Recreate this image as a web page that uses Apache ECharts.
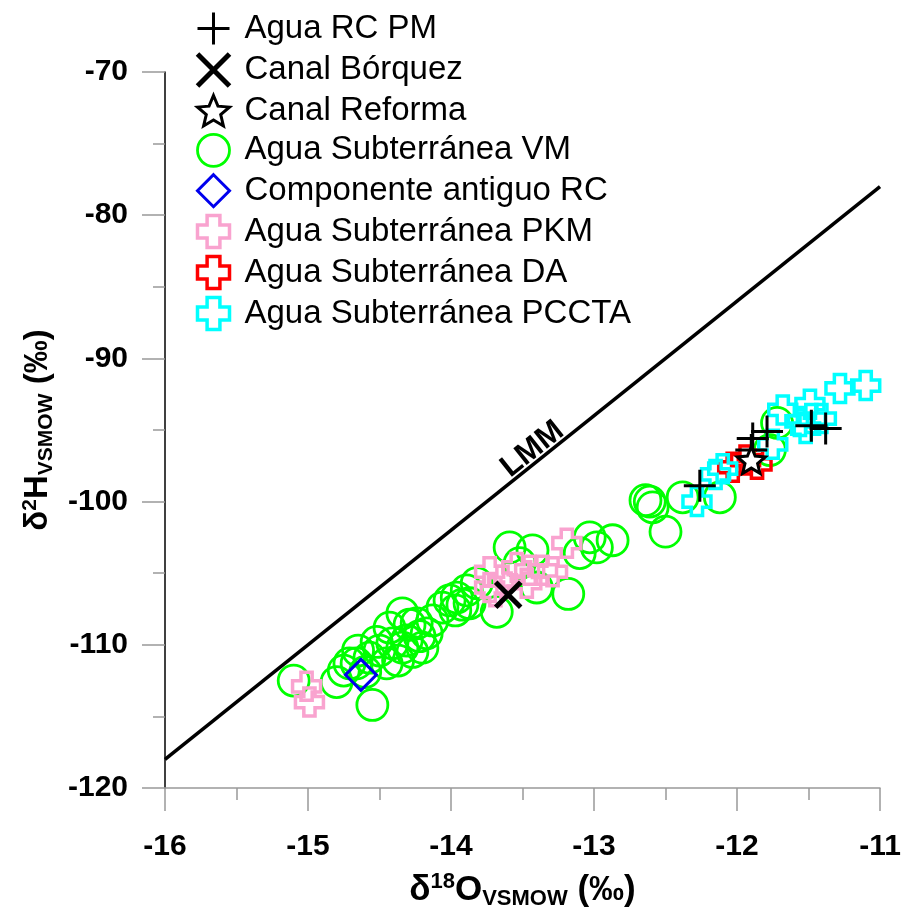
<!DOCTYPE html>
<html>
<head>
<meta charset="utf-8">
<script src="https://cdn.jsdelivr.net/npm/echarts@6/dist/echarts.min.js"></script>
<style>
html,body{margin:0;padding:0;background:#fff;}
#chart{width:905px;height:907px;}
</style>
</head>
<body>
<div id="chart"></div>
<script>
// ---- data (δ18O, δ2H) ----
const seriesNames = ['Agua RC PM','Canal Bórquez','Canal Reforma','Agua Subterránea VM','Componente antiguo RC','Agua Subterránea PKM','Agua Subterránea DA','Agua Subterránea PCCTA'];

const aguaRCPM = [[-12.26,-98.9],[-11.89,-95.6],[-11.79,-95.1],[-11.90,-96.4],[-11.48,-94.7],[-11.38,-94.9]];
const canalBorquez = [[-13.60,-106.5]];
const canalReforma = [[-11.90,-97.1]];
const subVM = [
 [-15.10,-112.5],[-14.80,-112.6],[-14.75,-111.8],[-14.55,-114.2],[-14.65,-110.4],[-14.66,-111.3],
 [-14.57,-110.9],[-14.52,-109.8],[-14.43,-108.8],[-14.34,-107.8],[-14.24,-108.5],[-14.17,-109.2],
 [-14.27,-110.5],[-14.37,-111.1],[-14.45,-111.3],[-14.31,-109.7],[-14.41,-109.9],[-14.20,-110.2],
 [-14.50,-110.4],[-14.01,-106.9],[-13.97,-107.6],[-13.92,-107.2],[-14.13,-108.3],[-14.06,-107.4],
 [-13.96,-106.7],[-13.89,-106.2],[-13.82,-105.7],[-13.87,-107.1],[-13.68,-107.7],[-13.59,-103.2],
 [-13.43,-103.4],[-13.52,-104.3],[-13.40,-106.0],[-13.18,-106.45],[-13.10,-103.6],[-12.98,-103.2],
 [-12.87,-102.7],[-13.03,-102.5],[-12.61,-100.0],[-12.59,-100.4],[-12.64,-99.9],[-12.50,-102.1],
 [-12.38,-99.7],[-12.12,-99.7],[-11.72,-94.5],[-11.77,-96.4],[-14.60,-111.9],[-14.29,-108.6],
 [-14.22,-109.4],[-14.34,-110.2],[-14.71,-111.3]
];
const compAntiguoRC = [[-14.63,-112.1]];
const subPKM = [[-15.01,-112.9],[-14.99,-114.0],[-13.73,-104.9],[-13.73,-106.0],[-13.64,-105.5],[-13.54,-104.6],
 [-13.45,-104.8],[-13.36,-104.8],[-13.47,-105.7],[-13.29,-104.9],[-13.19,-102.9],[-13.69,-106.3]];
const subDA = [[-12.03,-97.6],[-11.94,-97.1],[-11.86,-97.4]];
const subPCCTA = [[-12.28,-100.0],[-12.15,-98.1],[-12.10,-97.7],[-11.75,-96.0],[-11.68,-93.6],[-11.56,-94.4],
 [-11.49,-93.2],[-11.48,-94.2],[-11.41,-94.2],[-11.52,-94.9],[-11.28,-92.1],[-11.10,-91.9]];
// LMM line endpoints
const lmmLine = [[-16,-118],[-11,-78]];
const lmmLabelPos = [-13.43,-96.35];

const xTicks = {min:-16, max:-11, interval:1};
const yTicks = {min:-120, max:-70, interval:10};

const FONT = 'Liberation Sans, Arial, sans-serif';
const PLUS = 'path://M0,-10 L0,10 M-10,0 L10,0';
const XMARK = 'path://M-10,-10 L10,10 M-10,10 L10,-10';
const STAR = 'path://M0,-100 L26.45,-36.4 L95.1,-30.9 L42.8,13.9 L58.8,80.9 L0,45 L-58.8,80.9 L-42.8,13.9 L-95.1,-30.9 L-26.45,-36.4 Z';
const HCROSS = 'path://M-2,-5 L2,-5 L2,-2 L5,-2 L5,2 L2,2 L2,5 L-2,5 L-2,2 L-5,2 L-5,-2 L-2,-2 Z';

const chart = echarts.init(document.getElementById('chart'), null, {renderer:'canvas'});

const styles = {
  'Agua RC PM':            {symbol:PLUS,     size:32, fill:'rgba(0,0,0,0)', stroke:'#000',    bw:3},
  'Canal Bórquez':         {symbol:XMARK,    size:25, fill:'rgba(0,0,0,0)', stroke:'#000',    bw:5},
  'Canal Reforma':         {symbol:STAR,     size:28, fill:'#fff',          stroke:'#000',    bw:3},
  'Agua Subterránea VM':   {symbol:'circle', size:31, fill:'rgba(0,0,0,0)', stroke:'#00ff00', bw:2.8},
  'Componente antiguo RC': {symbol:'diamond',size:31, fill:'rgba(0,0,0,0)', stroke:'#0000ee', bw:3},
  'Agua Subterránea PKM':  {symbol:HCROSS,   size:28, fill:'rgba(0,0,0,0)', stroke:'#f9a3cf', bw:3.5},
  'Agua Subterránea DA':   {symbol:HCROSS,   size:28, fill:'rgba(0,0,0,0)', stroke:'#ff0000', bw:3.5},
  'Agua Subterránea PCCTA':{symbol:HCROSS,   size:28, fill:'rgba(0,0,0,0)', stroke:'#00ffff', bw:3.5}
};

function sc(name, data){
  const s = styles[name];
  return {
    name, type:'scatter', data, symbol:s.symbol, symbolSize:s.size, symbolKeepAspect:true,
    itemStyle:{color:s.fill, borderColor:s.stroke, borderWidth:s.bw, opacity:1},
    emphasis:{disabled:true}, silent:true
  };
}

const titleRich = (big, small) => ({
  a:{fontSize:big, fontWeight:'bold', fontFamily:FONT, color:'#000'},
  sup:{fontSize:small, fontWeight:'bold', fontFamily:FONT, color:'#000', padding:[0,0,Math.round(big*0.45),0]},
  sub:{fontSize:small, fontWeight:'bold', fontFamily:FONT, color:'#000', padding:[Math.round(big*0.5),0,0,0]}
});

const option = {
  animation:false,
  backgroundColor:'#fff',
  textStyle:{fontFamily:FONT},
  grid:{left:165, right:25, top:72, bottom:119, containLabel:false, outerBoundsMode:'none'},
  legend:{
    orient:'vertical', left:195, top:11, padding:0,
    itemWidth:32, itemHeight:32, itemGap:5.5,
    data:seriesNames.map(n => ({name:n, icon:styles[n].symbol,
      itemStyle:{color:styles[n].fill, borderColor:styles[n].stroke, borderWidth:styles[n].bw}})),
    textStyle:{fontSize:33, color:'#000', fontFamily:FONT, padding:[0,0,0,10]},
    selectedMode:false
  },
  xAxis:{
    type:'value', min:xTicks.min, max:xTicks.max, interval:xTicks.interval,
    name:'{a|δ}{sup|18}{a|O}{sub|VSMOW}{a| (‰)}',
    nameLocation:'middle', nameGap:82,
    nameTextStyle:{rich:titleRich(35, 22)},
    axisLine:{show:true, onZero:false, lineStyle:{color:'#999', width:1.5}},
    axisTick:{show:true, length:23, lineStyle:{color:'#999', width:1.5}},
    minorTick:{show:true, splitNumber:2, length:12, lineStyle:{color:'#999', width:1.5}},
    splitLine:{show:false},
    axisLabel:{fontSize:30, fontWeight:'bold', color:'#000', margin:44, fontFamily:FONT}
  },
  yAxis:{
    type:'value', min:yTicks.min, max:yTicks.max, interval:yTicks.interval,
    name:'{a|δ}{sup|2}{a|H}{sub|VSMOW}{a| (‰)}',
    nameLocation:'middle', nameGap:95, nameRotate:90,
    nameTextStyle:{rich:titleRich(33, 21)},
    axisLine:{show:true, onZero:false, lineStyle:{color:'#000', width:1.5}},
    axisTick:{show:true, length:23, lineStyle:{color:'#999', width:1.5}},
    minorTick:{show:true, splitNumber:2, length:12, lineStyle:{color:'#999', width:1.5}},
    splitLine:{show:false},
    axisLabel:{fontSize:30, fontWeight:'bold', color:'#000', margin:37, fontFamily:FONT}
  },
  series:[
    {name:'LMM', type:'line', data:lmmLine, symbol:'none', silent:true,
     lineStyle:{color:'#000', width:3.5}, emphasis:{disabled:true},
     markPoint:{symbol:'circle', symbolSize:0, silent:true,
       data:[{coord:lmmLabelPos, label:{show:true, formatter:'LMM', position:'inside', rotate:38.7,
         fontSize:31, fontWeight:'bold', color:'#000', fontFamily:FONT}}]}},
    sc('Agua Subterránea VM', subVM),
    sc('Componente antiguo RC', compAntiguoRC),
    sc('Agua Subterránea PKM', subPKM),
    sc('Agua Subterránea DA', subDA),
    sc('Agua Subterránea PCCTA', subPCCTA),
    sc('Agua RC PM', aguaRCPM),
    sc('Canal Bórquez', canalBorquez),
    sc('Canal Reforma', canalReforma)
  ]
};
chart.setOption(option);
</script>
</body>
</html>
